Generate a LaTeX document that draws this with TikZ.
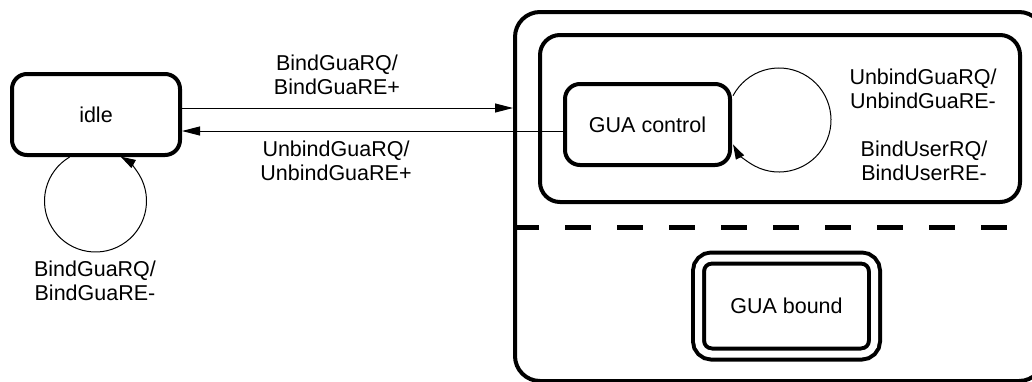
\documentclass[tikz,border=0pt]{standalone}
\usepackage{fontspec}
\setmainfont{Liberation Sans}
\usetikzlibrary{arrows.meta,calc}
\newcommand\lblfont{\fontsize{21.5}{24}\selectfont}
\begin{document}
\begin{tikzpicture}[x=1pt,y=-1pt,
  state/.style={draw, line width=4pt, rounded corners=15pt, inner sep=0pt, font=\lblfont},
  region/.style={draw, line width=4pt, inner sep=0pt},
  lbl/.style={align=center, inner sep=0pt, font=\lblfont},
  trans/.style={line width=1pt, -{Triangle[length=18pt,width=9pt]}},
  selfloop/.style={line width=1pt, -{Triangle[length=15pt,width=9pt]}},
  divider/.style={line width=5pt, dash pattern=on 26pt off 26pt}]
\useasboundingbox (0,0) rectangle (1032,381);
\clip (0,0) rectangle (1032,381);

% composite state with its two regions
\node[region, rounded corners=25pt, minimum width=529pt, minimum height=369pt] (outer) at (779.5,196.5) {};
\node[region, rounded corners=20pt, minimum width=480pt, minimum height=167pt] (upper) at (780,118.5) {};
\coordinate (dashy) at (0,227);
\draw[divider] (outer.west |- dashy) -- (outer.east |- dashy);

% states
\node[state, minimum width=168pt, minimum height=81pt] (idle) at (96,114.5) {idle};
\node[state, minimum width=165pt, minimum height=81pt] (guactl) at (647.5,124.5) {GUA control};
\node[state, rounded corners=13pt, double, double distance=7pt, line width=4pt,
      minimum width=176pt, minimum height=96pt] (guabound) at (786.5,306) {GUA bound};

% transitions between idle and the composite state
\coordinate (a1) at (0,108);
\coordinate (a2) at (0,131);
\draw[trans] (idle.east |- a1) -- (outer.west |- a1);
\draw[trans] (guactl.west |- a2) -- (idle.east |- a2);
\node[lbl] (t1) at (337,75) {BindGuaRQ/\\BindGuaRE+};
\node[lbl] (t2) at (336,161) {UnbindGuaRQ/\\UnbindGuaRE+};

% self transitions
\coordinate (c1) at (95.5,201);
\draw[selfloop] (c1) ++(239.5:51) arc[start angle=239.5, end angle=-60.5, radius=51];
\node[lbl] (t3) at (95,281) {BindGuaRQ/\\BindGuaRE-};

\coordinate (c2) at (779,120);
\draw[selfloop] (c2) ++(-152.2:52) arc[start angle=-152.2, end angle=152.2, radius=52];
\node[lbl] (t4) at (923,89) {UnbindGuaRQ/\\UnbindGuaRE-};
\node[lbl] (t5) at (924,161) {BindUserRQ/\\BindUserRE-};
\end{tikzpicture}
\end{document}
